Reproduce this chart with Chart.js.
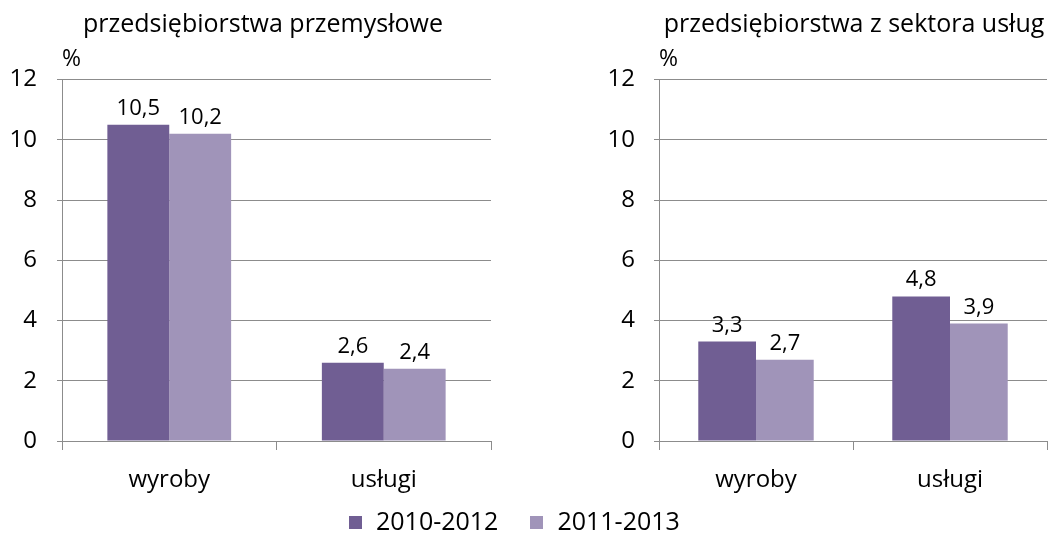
<!DOCTYPE html>
<html>
<head>
<meta charset="utf-8">
<script src="https://cdn.jsdelivr.net/npm/chart.js@4"></script>
<style>
  body { margin: 0; background: #fff; width: 1051px; height: 533px; position: relative; overflow: hidden; font-family: "Open Sans", sans-serif; }
  #left-wrap { position: absolute; left: 0; top: 0; width: 525px; height: 505px; }
  #right-wrap { position: absolute; left: 530px; top: 0; width: 521px; height: 505px; }
  .legend { position: absolute; top: 502px; left: 349px; font-size: 25px; line-height: 36px; color: #000; white-space: nowrap; }
  .legend span { display: inline-block; }
  .legend span + span { margin-left: 32px; }
  .legend i { display: inline-block; width: 13px; height: 13px; margin-right: 14px; vertical-align: 1px; }
</style>
</head>
<body>
<div id="left-wrap"><canvas id="left-chart"></canvas></div>
<div id="right-wrap"><canvas id="right-chart"></canvas></div>
<div class="legend" id="legend"></div>

<script>
const categories = ['wyroby', 'usługi'];
const seriesNames = ['2010-2012', '2011-2013'];
const seriesColors = ['#705e93', '#a094b9'];

// przedsiębiorstwa przemysłowe
const industry2010 = [10.5, 2.6];
const industry2011 = [10.2, 2.4];

// przedsiębiorstwa z sektora usług
const services2010 = [3.3, 4.8];
const services2011 = [2.7, 3.9];

const yTicks = [0, 2, 4, 6, 8, 10, 12];

const fontFamily = '"Open Sans", sans-serif';
const gridColor = '#8c8c8c';

// draws the value above each bar, with a decimal comma
const valueLabels = {
    id: 'valueLabels',
    afterDatasetsDraw(chart) {
        const ctx = chart.ctx;
        ctx.save();
        ctx.font = '22px ' + fontFamily;
        ctx.fillStyle = '#000';
        ctx.textAlign = 'center';
        ctx.textBaseline = 'alphabetic';
        chart.data.datasets.forEach((ds, i) => {
            const meta = chart.getDatasetMeta(i);
            meta.data.forEach((bar, j) => {
                const text = ds.data[j].toFixed(1).replace('.', ',');
                ctx.fillText(text, bar.x, bar.y - 10);
            });
        });
        ctx.restore();
    }
};

// chart heading, placed freely above the plot (the built-in title can only centre)
const heading = {
    id: 'heading',
    afterDraw(chart, args, opts) {
        const ctx = chart.ctx;
        ctx.save();
        ctx.font = '25px ' + fontFamily;
        ctx.fillStyle = '#000';
        ctx.textAlign = 'center';
        ctx.textBaseline = 'middle';
        ctx.fillText(opts.text, opts.x, 25);
        ctx.restore();
    }
};

function makeChart(canvasId, title, data1, data2, opts) {
    const ctx = document.getElementById(canvasId).getContext('2d');
    return new Chart(ctx, {
        type: 'bar',
        data: {
            labels: categories,
            datasets: [
                { label: seriesNames[0], data: data1, backgroundColor: seriesColors[0] },
                { label: seriesNames[1], data: data2, backgroundColor: seriesColors[1] }
            ]
        },
        options: {
            responsive: true,
            maintainAspectRatio: false,
            animation: false,
            layout: { padding: { left: opts.padLeft, right: opts.padRight, top: 46, bottom: 0 } },
            datasets: {
                bar: { categoryPercentage: opts.groupWidth, barPercentage: 1 }
            },
            scales: {
                x: {
                    grid: {
                        offset: true,
                        drawOnChartArea: false,
                        drawTicks: true,
                        tickLength: 9,
                        color: gridColor
                    },
                    border: { display: true, color: gridColor },
                    ticks: {
                        color: '#000',
                        padding: 16,
                        font: { family: fontFamily, size: 24 }
                    },
                    afterFit(scale) { scale.height = 64; }
                },
                y: {
                    min: 0,
                    max: 12,
                    afterBuildTicks(scale) {
                        scale.ticks = yTicks.map(v => ({ value: v }));
                    },
                    grid: { color: gridColor, tickLength: 5 },
                    border: { display: true, color: gridColor },
                    ticks: {
                        color: '#000',
                        padding: opts.tickPad,
                        font: { family: fontFamily, size: 24 }
                    },
                    afterFit(scale) { scale.width = 62; }
                }
            },
            plugins: {
                legend: { display: false },
                tooltip: { enabled: false },
                title: { display: false },
                heading: { text: title, x: opts.titleX },
                subtitle: {
                    display: true,
                    text: '%',
                    fullSize: false,
                    align: 'start',
                    color: '#000',
                    font: { family: fontFamily, size: 23 },
                    padding: { top: 0, bottom: 6 }
                }
            }
        },
        plugins: [valueLabels, heading]
    });
}

makeChart('left-chart', 'przedsiębiorstwa przemysłowe', industry2010, industry2011, {
    padLeft: 0, padRight: 34, groupWidth: 0.577, tickPad: 20, titleX: 263
});

makeChart('right-chart', 'przedsiębiorstwa z sektora usług', services2010, services2011, {
    padLeft: 67, padRight: 4, groupWidth: 0.595, tickPad: 19, titleX: 324
});

const legend = document.getElementById('legend');
seriesNames.forEach((name, i) => {
    const item = document.createElement('span');
    item.innerHTML = `<i style="background:${seriesColors[i]}"></i>${name}`;
    legend.appendChild(item);
});
</script>
</body>
</html>
